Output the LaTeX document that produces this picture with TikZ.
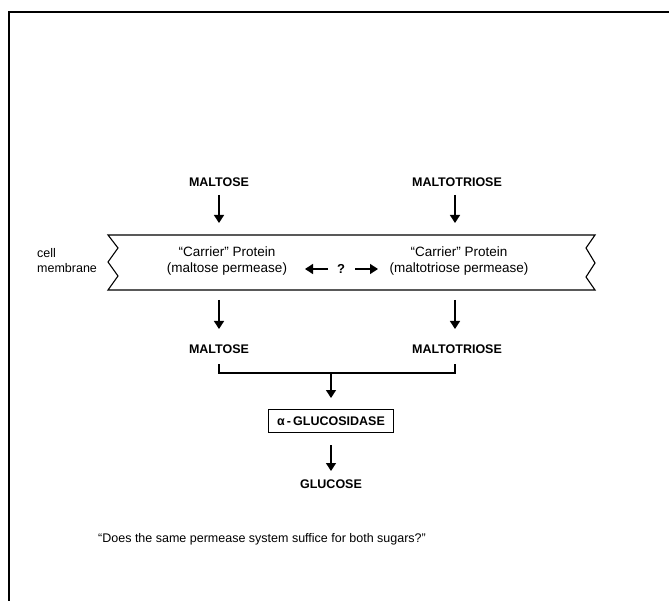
\documentclass[tikz,border=0pt]{standalone}
\usepackage{fontspec}
\setmainfont{Liberation Sans}
\usetikzlibrary{arrows.meta}
\begin{document}
\begin{tikzpicture}[x=1pt,y=-1pt,
  sugar/.style={font=\fontsize{12.5}{14}\selectfont\bfseries, inner sep=1pt},
  prot/.style={font=\fontsize{13.5}{16}\selectfont, align=center, inner sep=1pt},
  lbl/.style={font=\fontsize{12.5}{15}\selectfont, align=left, inner sep=1pt},
  flow/.style={line width=1.3pt, -{Triangle[width=10pt,length=8pt]}},
  line/.style={line width=1.1pt},
  enzbox/.style={draw, line width=1.1pt, font=\fontsize{12.5}{14}\selectfont\bfseries, minimum width=125pt, minimum height=23pt, inner sep=2pt}]
\useasboundingbox (0,0) rectangle (669,601);
% frame
\draw[line width=1.8pt] (9,601) -- (9,12) -- (669,12);
% membrane band
\draw[line] (108,235) -- (118,248) -- (108,262) -- (118,276) -- (108,290)
  -- (595,290) -- (586,277) -- (595,263) -- (586,248) -- (595,235) -- cycle;
% nodes
\node[sugar] (m1) at (219,182) {MALTOSE};
\node[sugar] (t1) at (457,182) {MALTOTRIOSE};
\node[prot] (p1) at (227,261) {``Carrier'' Protein\\(maltose permease)};
\node[prot] (p2) at (459,261) {``Carrier'' Protein\\(maltotriose permease)};
\node[lbl, anchor=west] (cm) at (36,261) {cell\\membrane};
\node[font=\fontsize{13}{15}\selectfont\bfseries, inner sep=1pt] (q) at (341,269) {?};
\node[sugar] (m2) at (219,349) {MALTOSE};
\node[sugar] (t2) at (457,349) {MALTOTRIOSE};
\node[enzbox] (enz) at (331,421) {α\,-\,GLUCOSIDASE};
\node[sugar] (g) at (331,484) {GLUCOSE};
\node[lbl, anchor=west] (qq) at (97,539) {``Does the same permease system suffice for both sugars?''};
% coordinates for arrows
\coordinate (a1s) at (219,195); \coordinate (a1e) at (219,223);
\coordinate (a2s) at (455,195); \coordinate (a2e) at (455,223);
\coordinate (b1s) at (219,300); \coordinate (b1e) at (219,329);
\coordinate (b2s) at (455,300); \coordinate (b2e) at (455,329);
\coordinate (qas) at (328,269); \coordinate (qa) at (305,269);
\coordinate (qbs) at (355,269); \coordinate (qb) at (378,269);
\coordinate (bl) at (219,364); \coordinate (br) at (455,364);
\coordinate (j) at (331,373);
\coordinate (js) at (331,372); \coordinate (je) at (331,398);
\coordinate (gs) at (331,445); \coordinate (ge) at (331,471);
% arrows
\draw[flow] (a1s) -- (a1e);
\draw[flow] (a2s) -- (a2e);
\draw[flow] (b1s) -- (b1e);
\draw[flow] (b2s) -- (b2e);
\draw[flow] (qas) -- (qa);
\draw[flow] (qbs) -- (qb);
\draw[line] (bl) |- (j) -| (br);
\draw[flow] (js) -- (je);
\draw[flow] (gs) -- (ge);
\end{tikzpicture}
\end{document}
